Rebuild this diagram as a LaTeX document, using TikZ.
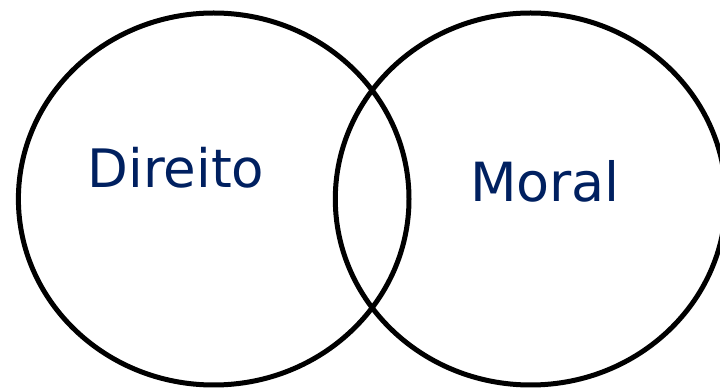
\documentclass[tikz,border=0pt]{standalone}
\usepackage{fontspec}
\setmainfont{DejaVu Sans}
\definecolor{navy}{HTML}{002060}
\begin{document}
\begin{tikzpicture}[x=1pt,y=1pt,
  ring/.style={draw=black,line width=5pt},
  lbl/.style={text=navy,anchor=base,inner sep=0pt}]
\useasboundingbox (0,0) rectangle (720,388);
\clip (0,0) rectangle (720,388);
\draw[ring] (213.7,189) ellipse [x radius=195.3, y radius=186];
\draw[ring] (530.6,189) ellipse [x radius=195.3, y radius=186];
\node[lbl,font=\fontsize{53}{62}\selectfont] (direito) at (176,200.7) {Direito};
\node[lbl,font=\fontsize{54}{64}\selectfont] (moral) at (545,186.3) {Moral};
\end{tikzpicture}
\end{document}
